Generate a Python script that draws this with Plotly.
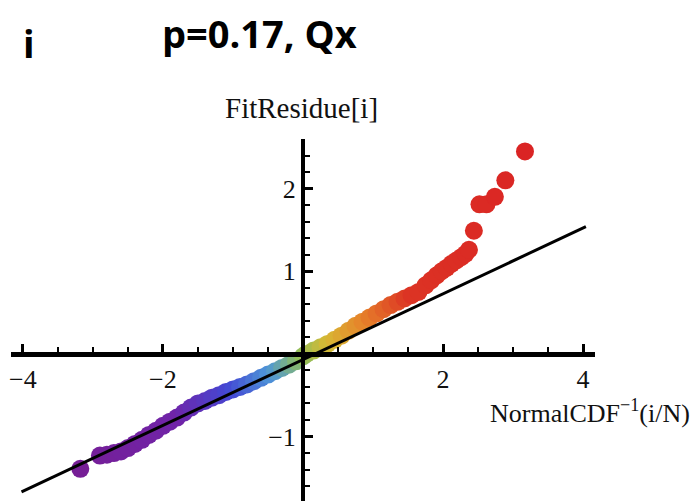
import plotly.graph_objects as go

# Quantile-quantile data
theoretical_q = [-3.18, -2.90, -2.80, -2.70, -2.60, -2.50, -2.40, -2.30, -2.20, -2.10,
                 -2.00, -1.90, -1.80, -1.70, -1.60, -1.50, -1.40, -1.30, -1.20, -1.10,
                 -1.00, -0.90, -0.80, -0.70, -0.60, -0.50, -0.40, -0.30, -0.20, -0.10,
                 0.00, 0.05, 0.15, 0.25, 0.35, 0.45, 0.55, 0.65, 0.75, 0.85,
                 0.95, 1.05, 1.15, 1.25, 1.35, 1.45, 1.55, 1.65, 1.75, 1.83,
                 1.91, 1.98, 2.05, 2.12, 2.19, 2.26, 2.32, 2.37, 2.44, 2.52,
                 2.62, 2.74, 2.89, 3.17]
fit_residue = [-1.39, -1.23, -1.22, -1.20, -1.18, -1.14, -1.09, -1.04, -0.98, -0.93,
               -0.87, -0.82, -0.77, -0.71, -0.65, -0.60, -0.57, -0.53, -0.50, -0.46,
               -0.43, -0.40, -0.37, -0.33, -0.29, -0.25, -0.21, -0.17, -0.13, -0.09,
               -0.03, 0.00, 0.04, 0.08, 0.12, 0.17, 0.22, 0.28, 0.34, 0.39,
               0.44, 0.49, 0.54, 0.59, 0.63, 0.67, 0.71, 0.75, 0.83, 0.89,
               0.95, 1.00, 1.04, 1.09, 1.13, 1.17, 1.21, 1.26, 1.49, 1.81,
               1.81, 1.90, 2.10, 2.45]

# Reference line end points
line_x = [-4.02, 4.04]
line_y = [-1.67, 1.54]

x_tick_vals = [-4, -2, 2, 4]
x_tick_text = ["\u22124", "\u22122", "2", "4"]
y_tick_vals = [-1, 1, 2]
y_tick_text = ["\u22121", "1", "2"]

x_range = [-4.17, 4.17]
y_range = [-1.78, 2.60]

rainbow = [
    [0.00, "rgb(118,30,150)"],
    [0.22, "rgb(112,36,168)"],
    [0.34, "rgb(68,72,212)"],
    [0.43, "rgb(78,150,215)"],
    [0.50, "rgb(145,190,90)"],
    [0.56, "rgb(215,185,52)"],
    [0.64, "rgb(230,130,42)"],
    [0.74, "rgb(220,52,36)"],
    [1.00, "rgb(218,36,36)"],
]

fig = go.Figure()
fig.add_trace(go.Scatter(
    x=theoretical_q, y=fit_residue, mode="markers",
    marker=dict(size=18, color=theoretical_q, colorscale=rainbow,
                cmin=-3.2, cmax=3.2, line=dict(width=0), opacity=1),
    hoverinfo="skip", showlegend=False,
))
fig.add_trace(go.Scatter(
    x=line_x, y=line_y, mode="lines",
    line=dict(color="black", width=3),
    hoverinfo="skip", showlegend=False,
))

tick_font = dict(family="Liberation Serif", size=26, color="#111")
xpos = (0 - y_range[0]) / (y_range[1] - y_range[0])
ypos = (0 - x_range[0]) / (x_range[1] - x_range[0])

fig.update_layout(
    width=698, height=501,
    margin=dict(l=11, r=103, t=139, b=0),
    paper_bgcolor="white", plot_bgcolor="white",
    xaxis=dict(range=x_range, anchor="free", position=xpos,
               showgrid=False, zeroline=False,
               showline=True, linecolor="black", linewidth=4.5,
               tickmode="array", tickvals=x_tick_vals, ticktext=x_tick_text,
               ticks="inside", ticklen=8, tickwidth=2.5, tickcolor="black",
               tickfont=tick_font,
               minor=dict(tick0=0, dtick=0.5, ticks="inside", ticklen=5,
                          tickwidth=2, tickcolor="black")),
    yaxis=dict(range=y_range, anchor="free", position=ypos,
               showgrid=False, zeroline=False,
               showline=True, linecolor="black", linewidth=4,
               tickmode="array", tickvals=y_tick_vals, ticktext=y_tick_text,
               ticks="inside", ticklen=8, tickwidth=2.5, tickcolor="black",
               tickfont=tick_font,
               minor=dict(tick0=0, dtick=0.2, ticks="inside", ticklen=5,
                          tickwidth=2, tickcolor="black")),
    annotations=[
        dict(text="FitResidue[i]", xref="paper", yref="paper",
             x=0.4966, y=1.0856, xanchor="center", yanchor="middle",
             showarrow=False, font=dict(family="Liberation Serif", size=29, color="#111")),
        dict(text="NormalCDF<sup>\u22121</sup>(i/N)", xref="paper", yref="paper",
             x=0.9906, y=0.2459, xanchor="center", yanchor="middle",
             showarrow=False, font=dict(family="Liberation Serif", size=26, color="#111")),
        dict(text="<b>p=0.17, Qx</b>", xref="paper", yref="paper",
             x=0.4247, y=1.292, xanchor="center", yanchor="middle",
             showarrow=False, font=dict(family="Open Sans", size=38, color="black")),
        dict(text="<b>i</b>", xref="paper", yref="paper",
             x=0.0308, y=1.264, xanchor="center", yanchor="middle",
             showarrow=False, font=dict(family="Open Sans", size=38, color="black")),
    ],
)

fig.write_html("out.html")
